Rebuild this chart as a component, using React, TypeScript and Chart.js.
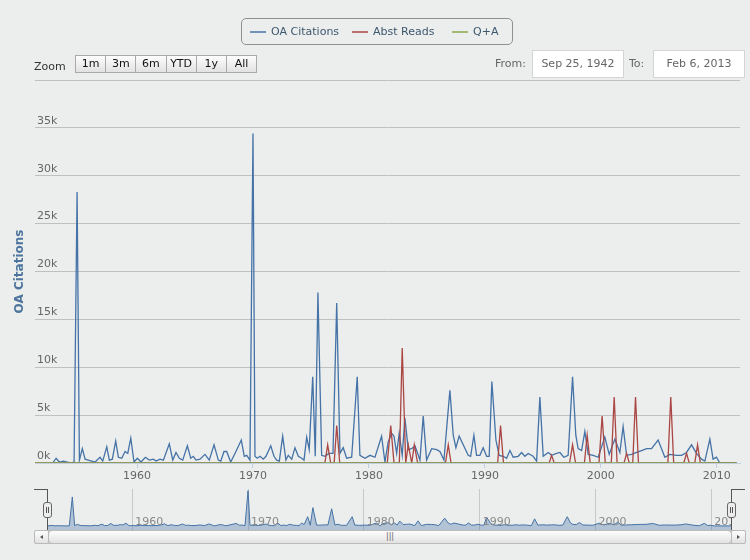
import React, { useEffect, useRef } from 'react';
import { Chart, registerables } from 'chart.js';

Chart.register(...registerables);

const seriesNames = ['OA Citations', 'Abst Reads', 'Q+A'];
const seriesColors = ['#4572A7', '#AA4643', '#89A54E'];

const oaYears = [
  1952.73, 1953.02, 1953.3, 1953.65, 1953.97, 1954.28, 1954.57, 1954.83, 1955.03, 1955.28,
  1955.52, 1955.8, 1956.09, 1956.38, 1956.81, 1957.04, 1957.39, 1957.61, 1957.87, 1958.16,
  1958.39, 1958.68, 1958.97, 1959.2, 1959.46, 1959.74, 1960.03, 1960.34, 1960.72, 1961.06,
  1961.41, 1961.64, 1961.98, 1962.27, 1962.78, 1963.08, 1963.36, 1963.65, 1963.94, 1964.34,
  1964.63, 1964.85, 1965.09, 1965.43, 1965.86, 1966.23, 1966.64, 1967.01, 1967.22, 1967.5,
  1967.73, 1968.08, 1968.53, 1968.99, 1969.25, 1969.46, 1969.74, 1970.0, 1970.17, 1970.37,
  1970.6, 1970.89, 1971.12, 1971.53, 1971.81, 1972.04, 1972.27, 1972.56, 1972.84, 1973.04,
  1973.34, 1973.62, 1973.91, 1974.2, 1974.4, 1974.63, 1974.85, 1975.15, 1975.37, 1975.6,
  1975.92, 1976.21, 1976.55, 1976.9, 1977.22, 1977.5, 1977.78, 1978.08, 1978.51, 1978.99,
  1979.22, 1979.66, 1980.09, 1980.52, 1981.09, 1981.38, 1981.66, 1981.96, 1982.16, 1982.39,
  1982.61, 1982.87, 1983.1, 1983.39, 1983.68, 1983.97, 1984.4, 1984.68, 1984.97, 1985.41,
  1985.84, 1986.12, 1986.47, 1986.98, 1987.27, 1987.5, 1987.78, 1988.13, 1988.56, 1988.77,
  1989.05, 1989.28, 1989.57, 1989.85, 1990.15, 1990.37, 1990.6, 1990.95, 1991.23, 1991.58,
  1991.87, 1992.16, 1992.44, 1992.87, 1993.16, 1993.45, 1993.73, 1994.16, 1994.46, 1994.74,
  1995.03, 1995.46, 1995.75, 1996.18, 1996.47, 1996.81, 1997.18, 1997.56, 1997.84, 1998.04,
  1998.34, 1998.62, 1998.91, 1999.34, 1999.77, 2000.34, 2000.72, 2001.21, 2001.64, 2001.92,
  2002.22, 2002.65, 2003.08, 2003.51, 2003.94, 2004.37, 2004.94, 2005.52, 2005.95, 2006.53,
  2006.96, 2007.39, 2007.82, 2008.25, 2008.68, 2008.97, 2009.4, 2009.68, 2009.97, 2010.26,
  2011.7,
];
const oaValues = [
  0, 500, 100, 200, 100, 0, 100, 28300, 300, 1500,
  400, 300, 200, 100, 600, 200, 1700, 300, 400, 2300,
  600, 500, 1200, 1000, 2600, 100, 500, 100, 600, 300,
  400, 200, 400, 300, 2000, 300, 1100, 500, 300, 1800,
  500, 700, 300, 400, 900, 300, 1900, 300, 200, 1200,
  1200, 100, 1200, 2400, 700, 800, 300, 34400, 700, 500,
  700, 400, 700, 1800, 700, 300, 200, 2800, 300, 800,
  400, 1600, 700, 500, 300, 2700, 1400, 9000, 700, 17800,
  800, 700, 1000, 1000, 16700, 1000, 1600, 500, 600, 9000,
  800, 500, 800, 600, 2800, 100, 2200, 3100, 2800, 1000,
  3100, 800, 4700, 1400, 1500, 1800, 300, 4900, 300, 1500,
  1400, 1200, 300, 7600, 2900, 1600, 2800, 1900, 800, 700,
  2900, 800, 800, 1600, 700, 700, 8500, 2400, 800, 700,
  500, 1300, 600, 700, 1100, 700, 1000, 700, 200, 6900,
  700, 1100, 800, 1000, 1100, 600, 800, 9000, 2900, 1500,
  1300, 3300, 900, 800, 600, 2700, 900, 2500, 1100, 3800,
  800, 900, 1100, 1300, 1500, 1500, 2400, 600, 900, 800,
  800, 1100, 1900, 1000, 400, 200, 2500, 400, 600, 0,
  0,
];

const readsYears = [
  1951.0,
  1976.2, 1976.44, 1976.7, 1977.0, 1977.22, 1977.48,
  1981.58, 1981.88, 1982.16, 1982.62, 1982.87, 1983.17, 1983.39, 1983.69, 1983.91, 1984.2,
  1986.6, 1986.84, 1987.08, 1991.1, 1991.35, 1991.6, 1995.55, 1995.75, 1995.98,
  1997.3, 1997.56, 1997.82, 1998.58, 1998.82, 1999.08, 1999.84, 2000.11, 2000.38,
  2000.9, 2001.15, 2001.4, 2002.0, 2002.22, 2002.45, 2002.75, 2002.99, 2003.24,
  2005.78, 2006.03, 2006.28, 2007.15, 2007.39, 2007.62, 2008.1, 2008.34, 2008.58,
  2011.7,
];
const readsValues = [
  0,
  0, 1900, 0, 0, 3900, 0,
  0, 3900, 0, 0, 12000, 0, 1900, 0, 1900, 0,
  0, 1900, 0, 0, 3900, 0, 0, 800, 0,
  0, 1900, 0, 0, 2900, 0, 0, 4900, 0,
  0, 6900, 0, 0, 1000, 0, 0, 6900, 0,
  0, 6900, 0, 0, 1000, 0, 0, 1900, 0,
  0,
];

const qaYears = [1951.0, 2011.7];
const qaValues = [0, 0];

const yTicks = [0, 5000, 10000, 15000, 20000, 25000, 30000, 35000, 40000];
const xTicks = [1960, 1970, 1980, 1990, 2000, 2010];
const zoomButtons = ['1m', '3m', '6m', 'YTD', '1y', 'All'];
const fromDate = 'Sep 25, 1942';
const toDate = 'Feb 6, 2013';

const pts = (xs: number[], ys: number[]) => xs.map((x, i) => ({ x, y: ys[i] }));

const FONT = 'DejaVu Sans';
const BG = '#EBEEED';

// navigator labels sit inside the plot, just right of each grid line
const navLabels = {
  id: 'navLabels',
  afterDatasetsDraw(chart: any) {
    const sx = chart.scales.x;
    const c = chart.ctx;
    c.save();
    c.font = `11px "${FONT}"`;
    c.fillStyle = '#888';
    c.textAlign = 'left';
    c.textBaseline = 'alphabetic';
    sx.ticks.forEach((t: any) => {
      c.fillText(String(t.value), sx.getPixelForValue(t.value) + 3, 36);
    });
    c.restore();
  },
};

const App: React.FC = () => {
  const mainRef = useRef<HTMLCanvasElement | null>(null);
  const navRef = useRef<HTMLCanvasElement | null>(null);

  useEffect(() => {
    const ctx = mainRef.current?.getContext('2d');
    const nctx = navRef.current?.getContext('2d');
    if (!ctx || !nctx) return;

    const allY = [oaValues, readsValues, qaValues];
    const allX = [oaYears, readsYears, qaYears];

    const main = new Chart(ctx, {
      type: 'line',
      data: {
        datasets: seriesNames.map((name, i) => ({
          label: name,
          data: pts(allX[i], allY[i]),
          borderColor: seriesColors[i],
          backgroundColor: seriesColors[i],
          borderWidth: 1.3,
          pointRadius: 0,
          tension: 0,
          order: 2 - i,
        })),
      },
      options: {
        animation: false,
        responsive: false,
        layout: { padding: { top: 80, right: 10, left: 0, bottom: 0 } },
        plugins: { legend: { display: false }, tooltip: { enabled: false } },
        scales: {
          x: {
            type: 'linear',
            min: 1951.2,
            max: 2012.0,
            afterBuildTicks: (s: any) => {
              s.ticks = xTicks.map((v) => ({ value: v }));
            },
            afterFit: (s: any) => {
              s.height = 22;
              s.paddingLeft = 0;
              s.paddingRight = 0;
            },
            grid: { drawOnChartArea: false, tickLength: 5, color: '#C0D0E0' },
            border: { color: '#C0D0E0' },
            ticks: {
              color: '#666',
              padding: 2,
              maxRotation: 0,
              autoSkip: false,
              font: { family: FONT, size: 11 },
              callback: (v: any) => String(v),
            },
          },
          y: {
            min: 0,
            max: 40000,
            afterBuildTicks: (s: any) => {
              s.ticks = yTicks.map((v) => ({ value: v }));
            },
            afterFit: (s: any) => {
              s.width = 35;
              s.paddingTop = 0;
              s.paddingBottom = 0;
            },
            grid: { color: '#C0C0C0', drawTicks: false },
            border: { display: false },
            ticks: {
              mirror: true,
              padding: 2,
              labelOffset: -7,
              color: '#666',
              font: { family: FONT, size: 11 },
              callback: (v: any) => (v === 40000 ? '' : v / 1000 + 'k'),
            },
            title: {
              display: true,
              text: 'OA Citations',
              color: '#4D759E',
              font: { family: FONT, size: 12, weight: 'bold' },
              padding: { top: 13, bottom: 0 },
            },
          },
        },
      },
    } as any);

    const nav = new Chart(nctx, {
      type: 'line',
      data: {
        datasets: [
          {
            data: pts(oaYears, oaValues),
            borderColor: seriesColors[0],
            backgroundColor: 'rgba(69,114,167,0.35)',
            borderWidth: 1,
            pointRadius: 0,
            fill: 'start',
          },
        ],
      },
      options: {
        animation: false,
        responsive: false,
        layout: { padding: 0 },
        plugins: { legend: { display: false }, tooltip: { enabled: false } },
        scales: {
          x: {
            type: 'linear',
            min: oaYears[0],
            max: oaYears[oaYears.length - 1],
            afterBuildTicks: (s: any) => {
              s.ticks = xTicks.map((v) => ({ value: v }));
            },
            afterFit: (s: any) => {
              s.height = 0;
              s.paddingLeft = 0;
              s.paddingRight = 0;
            },
            grid: { color: '#C8C8C8', drawTicks: false },
            border: { display: false },
            ticks: { display: false },
          },
          y: { display: false, min: -4000, max: 36000 },
        },
      },
      plugins: [navLabels],
    } as any);

    return () => {
      main.destroy();
      nav.destroy();
    };
  }, []);

  const abs = (s: React.CSSProperties): React.CSSProperties => ({ position: 'absolute', ...s });
  const btnGrad = 'linear-gradient(#fdfdfd, #e2e2e2)';

  return (
    <div
      style={{
        position: 'absolute',
        left: 0,
        top: 0,
        width: 750,
        height: 560,
        background: BG,
        overflow: 'hidden',
        fontFamily: FONT,
        fontSize: 11,
      }}
    >
      <canvas ref={mainRef} width={750} height={485} style={abs({ left: 0, top: 0, width: 750, height: 485 })} />

      {/* legend */}
      <div
        style={abs({
          left: 241,
          top: 18,
          width: 270,
          height: 25,
          border: '1px solid #909090',
          borderRadius: 5,
        })}
      >
        {seriesNames.map((name, i) => {
          const lefts = [8, 110, 210];
          return (
            <div key={name} style={abs({ left: lefts[i], top: 0, height: 25, display: 'flex', alignItems: 'center' })}>
              <span style={{ display: 'inline-block', width: 16, height: 2, background: seriesColors[i], opacity: 0.75 }} />
              <span style={{ marginLeft: 5, color: '#3E576F' }}>{name}</span>
            </div>
          );
        })}
      </div>

      {/* range selector */}
      <div style={abs({ left: 34, top: 60, color: '#333', lineHeight: '14px' })}>Zoom</div>
      <div style={abs({ left: 75, top: 55, width: 182, height: 18, display: 'flex' })}>
        {zoomButtons.map((b, i) => (
          <div
            key={b}
            style={{
              flex: 1,
              height: 16,
              border: '1px solid #a9a9a9',
              marginLeft: i === 0 ? 0 : -1,
              background: btnGrad,
              textAlign: 'center',
              lineHeight: '16px',
              color: '#111',
            }}
          >
            {b}
          </div>
        ))}
      </div>
      <div style={abs({ left: 495, top: 57, color: '#666', lineHeight: '14px' })}>From:</div>
      <div
        style={abs({
          left: 532,
          top: 50,
          width: 90,
          height: 26,
          background: '#fff',
          border: '1px solid #d4d4d4',
          textAlign: 'center',
          lineHeight: '26px',
          color: '#666',
        })}
      >
        {fromDate}
      </div>
      <div style={abs({ left: 629, top: 57, color: '#666', lineHeight: '14px' })}>To:</div>
      <div
        style={abs({
          left: 653,
          top: 50,
          width: 90,
          height: 26,
          background: '#fff',
          border: '1px solid #d4d4d4',
          textAlign: 'center',
          lineHeight: '26px',
          color: '#666',
        })}
      >
        {toDate}
      </div>

      {/* navigator */}
      <canvas ref={navRef} width={683} height={41} style={abs({ left: 48, top: 489, width: 683, height: 41 })} />
      <div style={abs({ left: 34, top: 489, width: 14, height: 1, background: '#555' })} />
      <div style={abs({ left: 47, top: 489, width: 1, height: 41, background: '#555' })} />
      <div style={abs({ left: 731, top: 489, width: 14, height: 1, background: '#555' })} />
      <div style={abs({ left: 731, top: 489, width: 1, height: 41, background: '#555' })} />
      {[47, 731].map((x) => (
        <div
          key={x}
          style={abs({
            left: x - 4,
            top: 502,
            width: 7,
            height: 14,
            background: '#ececec',
            border: '1px solid #666',
            borderRadius: 3,
          })}
        >
          <div style={abs({ left: 2, top: 4, width: 1, height: 6, background: '#555' })} />
          <div style={abs({ left: 4, top: 4, width: 1, height: 6, background: '#555' })} />
        </div>
      ))}

      {/* scrollbar */}
      <div
        style={abs({
          left: 34,
          top: 530,
          width: 710,
          height: 12,
          border: '1px solid #bbb',
          borderRadius: 2,
          background: 'linear-gradient(#eee, #fff)',
        })}
      />
      <div
        style={abs({
          left: 48,
          top: 530,
          width: 682,
          height: 12,
          border: '1px solid #bbb',
          borderRadius: 4,
          background: btnGrad,
          textAlign: 'center',
          fontSize: 8,
          lineHeight: '12px',
          color: '#666',
        })}
      >
        |||
      </div>
      {[34, 731].map((x, i) => (
        <div
          key={x}
          style={abs({
            left: x,
            top: 530,
            width: 13,
            height: 12,
            border: '1px solid #bbb',
            borderRadius: 2,
            background: btnGrad,
          })}
        >
          <div
            style={abs({
              left: 5,
              top: 4,
              width: 0,
              height: 0,
              borderTop: '2px solid transparent',
              borderBottom: '2px solid transparent',
              [i === 0 ? 'borderRight' : 'borderLeft']: '3px solid #555',
            } as React.CSSProperties)}
          />
        </div>
      ))}
    </div>
  );
};

export default App;
